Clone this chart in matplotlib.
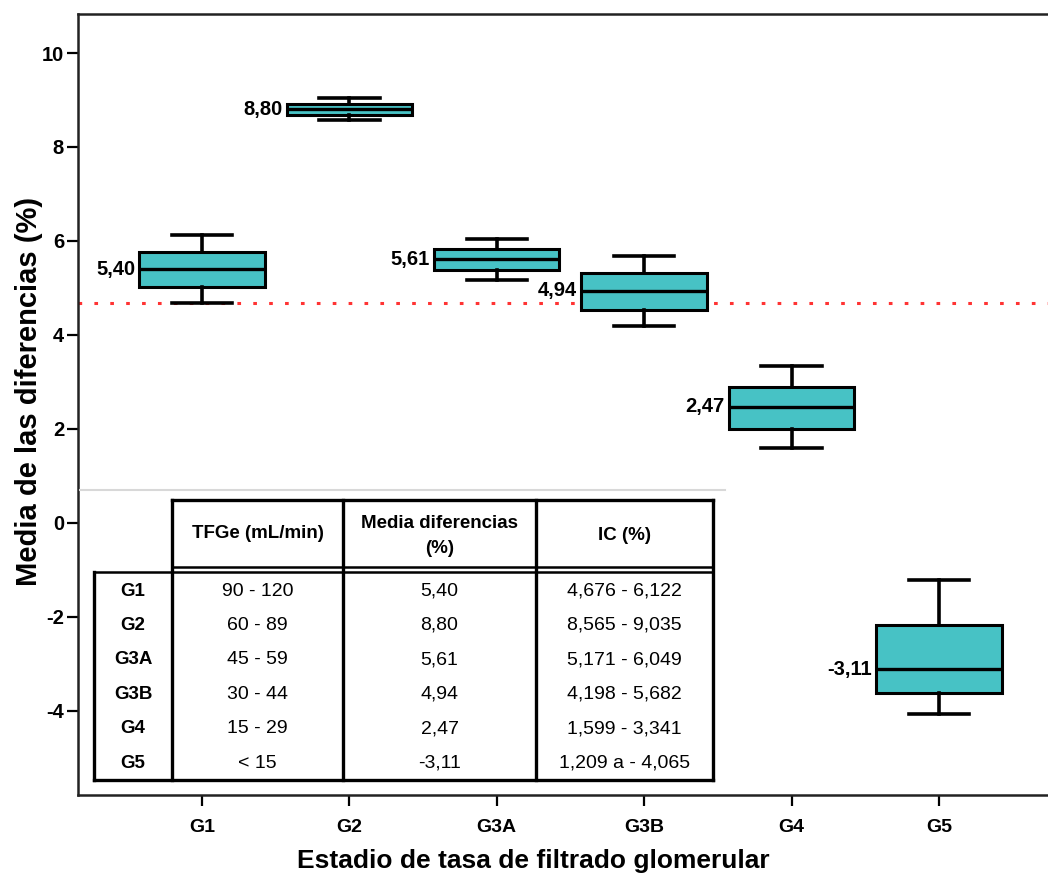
import numpy as np
import matplotlib
matplotlib.use("Agg")
import matplotlib.pyplot as plt
from matplotlib.lines import Line2D

# %% data
groups = ["G1", "G2", "G3A", "G3B", "G4", "G5"]
medians = [5.40, 8.80, 5.61, 4.94, 2.47, -3.11]
q1 = [5.02, 8.69, 5.38, 4.54, 2.00, -3.62]
q3 = [5.77, 8.91, 5.83, 5.31, 2.90, -2.18]
ci_low = [4.676, 8.565, 5.171, 4.198, 1.599, -4.065]
ci_high = [6.122, 9.035, 6.049, 5.682, 3.341, -1.209]
ref_line = 4.68

tfge = ["90 - 120", "60 - 89", "45 - 59", "30 - 44", "15 - 29", "< 15"]
media_txt = ["5,40", "8,80", "5,61", "4,94", "2,47", "-3,11"]
ic_txt = ["4,676 - 6,122", "8,565 - 9,035", "5,171 - 6,049",
          "4,198 - 5,682", "1,599 - 3,341", "1,209 a - 4,065"]
headers = ["TFGe (mL/min)", "Media diferencias\n(%)", "IC (%)"]

plt.rcParams['axes.unicode_minus'] = False
plt.rcParams['font.family'] = ['Liberation Sans', 'DejaVu Sans']

W, H = 1048, 876
fig = plt.figure(figsize=(W / 100, H / 100), dpi=100)
ax = fig.add_axes([78 / W, 1 - 795 / H, (W - 78) / W, (795 - 14) / H])

teal = "#47C2C5"
pos = np.arange(1, len(groups) + 1)
stats = [dict(med=m, q1=a, q3=b, whislo=lo, whishi=hi, fliers=[])
         for m, a, b, lo, hi in zip(medians, q1, q3, ci_low, ci_high)]
ax.bxp(stats, positions=pos, widths=0.85, capwidths=0.41, patch_artist=True,
       boxprops=dict(facecolor=teal, edgecolor="black", linewidth=2.2),
       medianprops=dict(color="black", linewidth=2.4),
       whiskerprops=dict(color="black", linewidth=2.6),
       capprops=dict(color="black", linewidth=2.6),
       showfliers=False)

# value labels left of each box
for p, m in zip(pos, medians):
    ax.annotate(f"{m:.2f}".replace(".", ","), xy=(p - 0.425, m),
                xytext=(-3, 0), textcoords="offset points",
                ha="right", va="center", fontsize=14.5, fontweight="bold")

ax.axhline(ref_line, color="#FF3333", linewidth=2.2, linestyle=(0, (1.2, 4)),
           zorder=1)

ax.set_xlim(0.159, 6.74)
ax.set_ylim(-5.79, 10.83)
ax.set_yticks(np.arange(-4, 11, 2))
ax.set_xticks(pos)
ax.set_xticklabels(groups)
ax.tick_params(axis="both", length=8, width=1.6, labelsize=14.5)
ax.tick_params(axis="x", labelsize=14, pad=9)
ax.tick_params(axis="y", pad=2)
for lab in ax.get_xticklabels() + ax.get_yticklabels():
    lab.set_fontweight("bold")
ax.spines['right'].set_visible(False)
for s in ['left', 'bottom', 'top']:
    ax.spines[s].set_linewidth(1.8)
    ax.spines[s].set_color("#222222")

fig.text(533 / W, 1 - 861 / H, "Estadio de tasa de filtrado glomerular",
         ha="center", va="center", fontsize=19, fontweight="bold")
fig.text(29 / W, 1 - 391 / H, "Media de las diferencias (%)", rotation=90,
         ha="center", va="center", fontsize=21, fontweight="bold")


# %% summary table drawn on the figure (pixel layout from top-left)
def px_line(x0, y0, x1, y1, lw=2.4, color="black"):
    fig.add_artist(Line2D([x0 / W, x1 / W], [1 - y0 / H, 1 - y1 / H],
                          transform=fig.transFigure, color=color,
                          linewidth=lw, solid_capstyle="projecting"))


def px_text(x, y, s, **kw):
    fig.text(x / W, 1 - y / H, s, ha="center", va="center", **kw)


# white background for the table area
fig.add_artist(plt.Rectangle((80 / W, 1 - 792 / H), 645 / W, 300 / H,
                             transform=fig.transFigure, facecolor="white",
                             edgecolor="none", zorder=2))
px_line(80, 490, 725, 490, lw=1.5, color="#D8D8D8")

cols = [94, 172, 343, 536, 713]
top, hdr_bot, rows_top, bot = 500, 567, 572, 780
px_line(cols[1], top, cols[4], top)
px_line(cols[1], hdr_bot, cols[4], hdr_bot, lw=1.8)
px_line(cols[0], rows_top, cols[4], rows_top, lw=1.8)
px_line(cols[0], bot, cols[4], bot)
px_line(cols[0], rows_top, cols[0], bot)
for c in cols[1:]:
    px_line(c, top, c, bot)

hdr_y = [533, 536, 535]
for i, h in enumerate(headers):
    px_text((cols[i + 1] + cols[i + 2]) / 2, hdr_y[i], h, fontsize=13.5,
            fontweight="bold", linespacing=1.65, zorder=3)

row_y0, row_dy = 591, 34.4
for r, g in enumerate(groups):
    y = row_y0 + r * row_dy
    px_text((cols[0] + cols[1]) / 2, y, g, fontsize=13.5, fontweight="bold")
    for c, txt in enumerate([tfge[r], media_txt[r], ic_txt[r]]):
        px_text((cols[c + 1] + cols[c + 2]) / 2, y, txt, fontsize=14)

fig.savefig("out.png", dpi=100)
